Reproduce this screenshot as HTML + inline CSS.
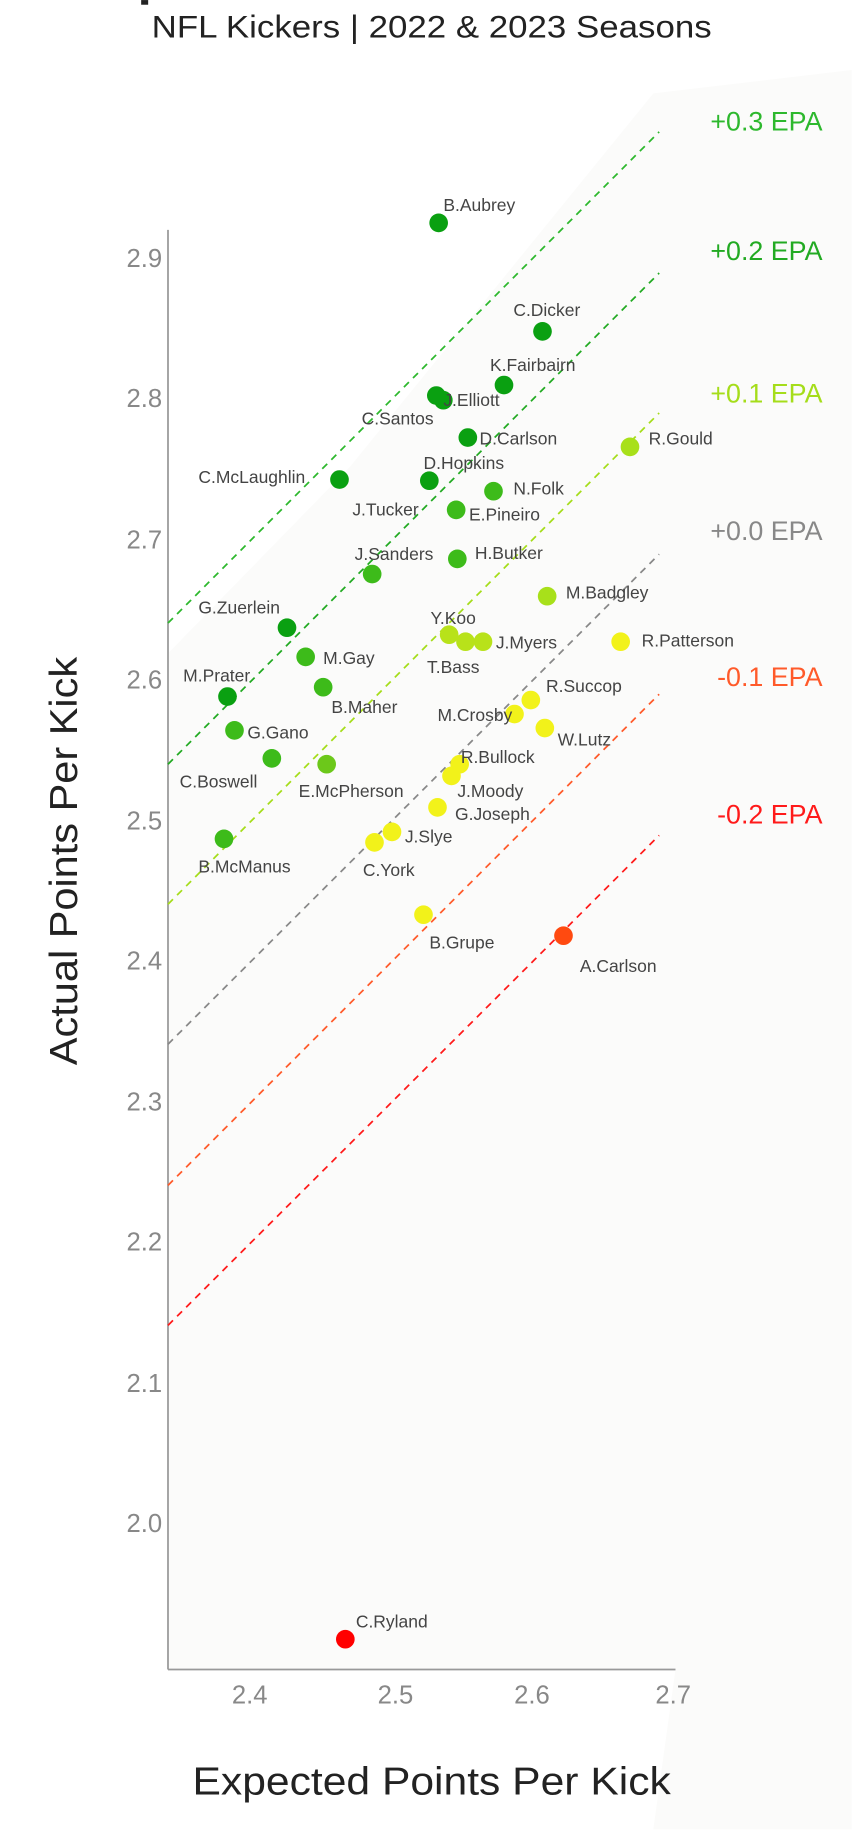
<!DOCTYPE html>
<html><head><meta charset="utf-8"><style>
html,body{margin:0;padding:0;background:#fff;}
svg{display:block;}
text{font-family:"Liberation Sans Narrow","Liberation Sans",sans-serif;}
</style></head><body>
<svg width="852" height="1830" viewBox="0 0 730.3 1568.5" xmlns="http://www.w3.org/2000/svg">
<rect x="0" y="0" width="730.3" height="1568.5" fill="#fff"/>
<polygon points="144,1431 144,560 300,400 560,80 730,60 730,1568 560,1568 579,1431" fill="#fbfbfa"/>
<rect x="121" y="0" width="6" height="4" fill="#222"/>
<text x="370" y="32" text-anchor="middle" font-size="27" fill="#222" textLength="480" lengthAdjust="spacingAndGlyphs">NFL Kickers | 2022 &amp; 2023 Seasons</text>
<line x1="144" y1="197" x2="144" y2="1431" stroke="#999" stroke-width="1.5"/>
<line x1="144" y1="1431" x2="579" y2="1431" stroke="#999" stroke-width="1.5"/>
<g font-size="22" fill="#888" text-anchor="end">
<text x="139" y="229">2.9</text><text x="139" y="349">2.8</text><text x="139" y="470">2.7</text>
<text x="139" y="590">2.6</text><text x="139" y="711">2.5</text><text x="139" y="831">2.4</text>
<text x="139" y="952">2.3</text><text x="139" y="1072">2.2</text><text x="139" y="1193">2.1</text>
<text x="139" y="1313">2.0</text>
</g>
<g font-size="22" fill="#888" text-anchor="middle">
<text x="214" y="1460">2.4</text><text x="339" y="1460">2.5</text><text x="456" y="1460">2.6</text><text x="577" y="1460">2.7</text>
</g>
<text x="370" y="1538" text-anchor="middle" font-size="33" fill="#222" textLength="410" lengthAdjust="spacingAndGlyphs">Expected Points Per Kick</text>
<text transform="translate(66,738) rotate(-90)" text-anchor="middle" font-size="33" fill="#222" textLength="350" lengthAdjust="spacingAndGlyphs">Actual Points Per Kick</text>
<g stroke-width="1.5" stroke-dasharray="6,5" fill="none">
<line x1="144" y1="534" x2="565" y2="113" stroke="#2db82d"/>
<line x1="144" y1="655" x2="565" y2="234" stroke="#22aa22"/>
<line x1="144" y1="775" x2="565" y2="354" stroke="#a5dd1a"/>
<line x1="144" y1="895" x2="565" y2="475" stroke="#888"/>
<line x1="144" y1="1016" x2="565" y2="595" stroke="#ff5a2a"/>
<line x1="144" y1="1136" x2="565" y2="716" stroke="#ff1a1a"/>
</g>
<g font-size="23" text-anchor="end">
<text x="705" y="112" fill="#2db82d">+0.3 EPA</text>
<text x="705" y="223" fill="#22aa22">+0.2 EPA</text>
<text x="705" y="345" fill="#a5dd1a">+0.1 EPA</text>
<text x="705" y="463" fill="#888">+0.0 EPA</text>
<text x="705" y="588" fill="#ff5a2a">-0.1 EPA</text>
<text x="705" y="706" fill="#ff1a1a">-0.2 EPA</text>
</g>
<g>
<circle cx="376" cy="191" r="8" fill="#0aa011"/>
<circle cx="465" cy="284" r="8" fill="#0aa011"/>
<circle cx="432" cy="330" r="8" fill="#0aa011"/>
<circle cx="380" cy="343" r="8" fill="#0aa011"/>
<circle cx="374" cy="339" r="8" fill="#0aa011"/>
<circle cx="401" cy="375" r="8" fill="#0aa011"/>
<circle cx="540" cy="383" r="8" fill="#a8e01a"/>
<circle cx="291" cy="411" r="8" fill="#0aa011"/>
<circle cx="368" cy="412" r="8" fill="#0aa011"/>
<circle cx="423" cy="421" r="8" fill="#3dbb1a"/>
<circle cx="391" cy="437" r="8" fill="#3dbb1a"/>
<circle cx="392" cy="479" r="8" fill="#3dbb1a"/>
<circle cx="319" cy="492" r="8" fill="#3dbb1a"/>
<circle cx="469" cy="511" r="8" fill="#a8e01a"/>
<circle cx="246" cy="538" r="8" fill="#0aa011"/>
<circle cx="385" cy="544" r="8" fill="#b8e21a"/>
<circle cx="399" cy="550" r="8" fill="#b8e21a"/>
<circle cx="414" cy="550" r="8" fill="#b8e21a"/>
<circle cx="532" cy="550" r="8" fill="#f2f21a"/>
<circle cx="262" cy="563" r="8" fill="#3dbb1a"/>
<circle cx="277" cy="589" r="8" fill="#3dbb1a"/>
<circle cx="195" cy="597" r="8" fill="#0aa011"/>
<circle cx="455" cy="600" r="8" fill="#f2f21a"/>
<circle cx="441" cy="612" r="8" fill="#f2f21a"/>
<circle cx="467" cy="624" r="8" fill="#f2f21a"/>
<circle cx="201" cy="626" r="8" fill="#3dbb1a"/>
<circle cx="233" cy="650" r="8" fill="#3dbb1a"/>
<circle cx="280" cy="655" r="8" fill="#6cc81a"/>
<circle cx="387" cy="665" r="8" fill="#f2f21a"/>
<circle cx="394" cy="655" r="8" fill="#f2f21a"/>
<circle cx="375" cy="692" r="8" fill="#f2f21a"/>
<circle cx="336" cy="713" r="8" fill="#f2f21a"/>
<circle cx="321" cy="722" r="8" fill="#f2f21a"/>
<circle cx="192" cy="719" r="8" fill="#3dbb1a"/>
<circle cx="363" cy="784" r="8" fill="#f2f21a"/>
<circle cx="483" cy="802" r="8" fill="#ff4a10"/>
<circle cx="296" cy="1405" r="8" fill="#ff0000"/>
</g>
<g font-size="15" fill="#444">
<text x="380" y="181">B.Aubrey</text>
<text x="440" y="271">C.Dicker</text>
<text x="420" y="318">K.Fairbairn</text>
<text x="380" y="348">J.Elliott</text>
<text x="310" y="364">C.Santos</text>
<text x="411" y="381">D.Carlson</text>
<text x="556" y="381">R.Gould</text>
<text x="170" y="414">C.McLaughlin</text>
<text x="363" y="402">D.Hopkins</text>
<text x="302" y="442">J.Tucker</text>
<text x="440" y="424">N.Folk</text>
<text x="402" y="446">E.Pineiro</text>
<text x="407" y="479">H.Butker</text>
<text x="304" y="480">J.Sanders</text>
<text x="485" y="513">M.Badgley</text>
<text x="170" y="526">G.Zuerlein</text>
<text x="369" y="535">Y.Koo</text>
<text x="366" y="577">T.Bass</text>
<text x="425" y="556">J.Myers</text>
<text x="550" y="554">R.Patterson</text>
<text x="277" y="569">M.Gay</text>
<text x="284" y="611">B.Maher</text>
<text x="157" y="584">M.Prater</text>
<text x="468" y="593">R.Succop</text>
<text x="375" y="618">M.Crosby</text>
<text x="478" y="639">W.Lutz</text>
<text x="212" y="633">G.Gano</text>
<text x="154" y="675">C.Boswell</text>
<text x="256" y="683">E.McPherson</text>
<text x="395" y="654">R.Bullock</text>
<text x="392" y="683">J.Moody</text>
<text x="390" y="703">G.Joseph</text>
<text x="347" y="722">J.Slye</text>
<text x="311" y="751">C.York</text>
<text x="170" y="748">B.McManus</text>
<text x="368" y="813">B.Grupe</text>
<text x="497" y="833">A.Carlson</text>
<text x="305" y="1395">C.Ryland</text>
</g>
</svg>
</body></html>
